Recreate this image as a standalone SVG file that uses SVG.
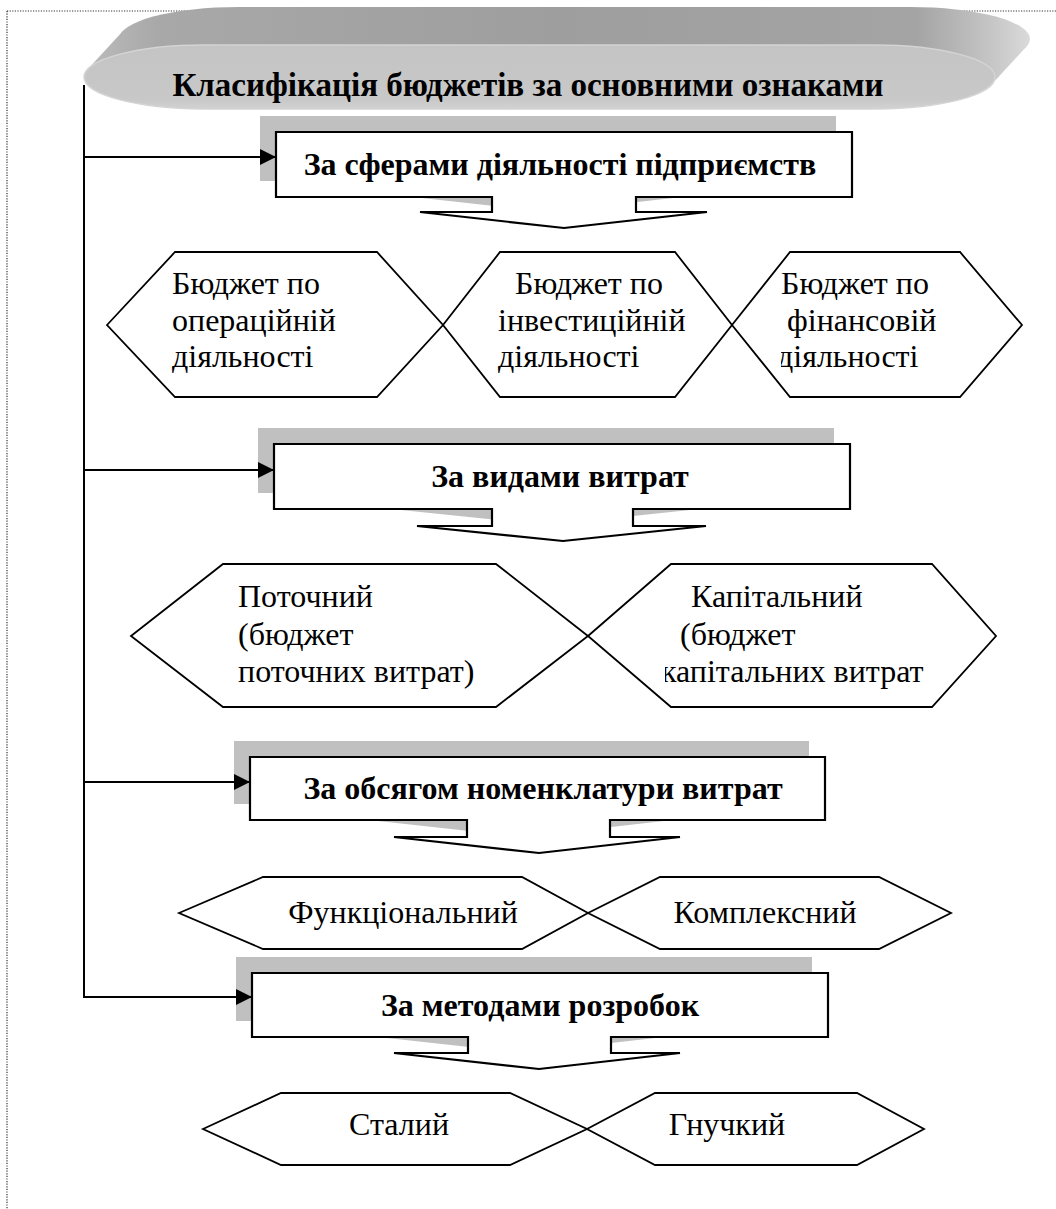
<svg xmlns="http://www.w3.org/2000/svg" width="1056" height="1209" viewBox="0 0 1056 1209">
<style>
.bt{font-family:"Liberation Serif","DejaVu Serif",serif;font-weight:bold;font-size:32px;fill:#000;text-anchor:middle}
.rt{font-family:"Liberation Serif","DejaVu Serif",serif;font-size:32px;fill:#000}
.mid{text-anchor:middle}
.hex{fill:#fff;stroke:#000;stroke-width:1.8;stroke-linejoin:miter}
.box{fill:#fff;stroke:#000;stroke-width:2.2;stroke-linejoin:miter}
.shd{fill:#c0c0c0}
.con{fill:none;stroke:#000;stroke-width:2}
.dot{fill:none;stroke:#333;stroke-width:1.2;stroke-dasharray:1.2 1.4}
</style>
<defs>
<marker id="ah" markerUnits="userSpaceOnUse" markerWidth="18" markerHeight="18" refX="16" refY="8" orient="auto">
<path d="M0,0 L16,8 L0,16 Z" fill="#000"/>
</marker>
<linearGradient id="gBack" x1="84" y1="0" x2="1030" y2="0" gradientUnits="userSpaceOnUse">
<stop offset="0" stop-color="#bcbcbc"/>
<stop offset="0.08" stop-color="#a8a8a8"/>
<stop offset="0.5" stop-color="#9e9e9e"/>
<stop offset="0.88" stop-color="#a4a4a4"/>
<stop offset="0.96" stop-color="#c6c6c6"/>
<stop offset="1" stop-color="#dadada"/>
</linearGradient>
<linearGradient id="gFront" x1="0" y1="45" x2="0" y2="109" gradientUnits="userSpaceOnUse">
<stop offset="0" stop-color="#c4c4c4"/>
<stop offset="0.85" stop-color="#c8c8c8"/>
<stop offset="1" stop-color="#d2d2d2"/>
</linearGradient>
<clipPath id="clipH3"><rect x="781" y="240" width="250" height="170"/></clipPath>
<clipPath id="clipB2"><rect x="665" y="560" width="330" height="150"/></clipPath>
</defs>

<g id="border">
<line class="dot" x1="7" y1="11" x2="1056" y2="11"/>
<line class="dot" x1="7" y1="11" x2="7" y2="1209"/>
</g>

<g id="title">
<rect x="119" y="7" width="911" height="64" rx="120" ry="32" fill="url(#gBack)"/>
<polygon points="87.5,69.4 122.5,31.4 1026.5,46.6 991.5,84.6" fill="url(#gBack)"/>
<rect x="84" y="45" width="911" height="64" rx="120" ry="32" fill="url(#gFront)" stroke="#d4d4d4" stroke-width="1.5"/>
<text class="bt" x="528" y="96" style="font-size:33px">Класифікація бюджетів за основними ознаками</text>
</g>

<g id="box1">
<path class="shd" transform="translate(-16,-16)" d="M276,132 H852 V197 H636 V212 H707 L564,228 L420,212 H492 V197 H276 Z"/>
<path class="box" d="M276,132 H852 V197 H636 V212 H707 L564,228 L420,212 H492 V197 H276 Z"/>
<text class="bt" x="560" y="175">За сферами діяльності підприємств</text>
</g>

<g id="hex-oper">
<polygon class="hex" points="107,325 175,252 377,252 443,325 377,397 175,397"/>
<text class="rt" x="172" y="294">Бюджет по</text>
<text class="rt" x="172" y="331">операційній</text>
<text class="rt" x="172" y="367">діяльності</text>
</g>
<g id="hex-invest">
<polygon class="hex" points="443,325 500,252 675,252 732,325 675,397 500,397"/>
<text class="rt" x="515" y="294">Бюджет по</text>
<text class="rt" x="498" y="331">інвестиційній</text>
<text class="rt" x="498" y="367">діяльності</text>
</g>
<g id="hex-fin">
<polygon class="hex" points="732,325 790,252 960,252 1022,325 960,397 790,397"/>
<g clip-path="url(#clipH3)">
<text class="rt" x="781" y="294">Бюджет по</text>
<text class="rt" x="787" y="331">фінансовій</text>
<text class="rt" x="777" y="367">діяльності</text>
</g>
</g>

<g id="box2">
<path class="shd" transform="translate(-16,-16)" d="M274,444 H850 V509 H633 V526 H706 L563,541 L417,526 H492 V509 H274 Z"/>
<path class="box" d="M274,444 H850 V509 H633 V526 H706 L563,541 L417,526 H492 V509 H274 Z"/>
<text class="bt" x="560" y="487">За видами витрат</text>
</g>

<g id="hex-current">
<polygon class="hex" points="131,636 223,564 496,564 588,636 496,707 223,707"/>
<text class="rt" x="238" y="607">Поточний</text>
<text class="rt" x="238" y="645">(бюджет</text>
<text class="rt" x="238" y="682">поточних витрат)</text>
</g>
<g id="hex-capital">
<polygon class="hex" points="588,636 671,564 932,564 996,636 932,707 671,707"/>
<g clip-path="url(#clipB2)">
<text class="rt" x="691" y="607">Капітальний</text>
<text class="rt" x="680" y="645">(бюджет</text>
<text class="rt" x="661" y="682">капітальних витрат</text>
</g>
</g>

<g id="box3">
<path class="shd" transform="translate(-16,-16)" d="M250,757 H825 V820 H610 V837 H680 L539,853 L394,837 H467 V820 H250 Z"/>
<path class="box" d="M250,757 H825 V820 H610 V837 H680 L539,853 L394,837 H467 V820 H250 Z"/>
<text class="bt" x="543" y="799">За обсягом номенклатури витрат</text>
</g>

<g id="hex-func">
<polygon class="hex" points="179,913 263,877 522,877 588,913 522,949 263,949"/>
<text class="rt mid" x="403" y="923">Функціональний</text>
</g>
<g id="hex-complex">
<polygon class="hex" points="588,913 660,877 879,877 951,913 879,949 660,949"/>
<text class="rt mid" x="765" y="923">Комплексний</text>
</g>

<g id="box4">
<path class="shd" transform="translate(-16,-16)" d="M252,973 H828 V1037 H611 V1053 H680 L539,1069 L394,1053 H468 V1037 H252 Z"/>
<path class="box" d="M252,973 H828 V1037 H611 V1053 H680 L539,1069 L394,1053 H468 V1037 H252 Z"/>
<text class="bt" x="540" y="1016">За методами розробок</text>
</g>

<g id="hex-fixed">
<polygon class="hex" points="203,1129 281,1093 510,1093 587,1129 510,1165 281,1165"/>
<text class="rt mid" x="399" y="1135">Сталий</text>
</g>
<g id="hex-flexible">
<polygon class="hex" points="587,1129 655,1093 857,1093 924,1129 857,1165 655,1165"/>
<text class="rt mid" x="727" y="1135">Гнучкий</text>
</g>

<g id="connectors">
<line class="con" x1="84" y1="85" x2="84" y2="998"/>
<line class="con" x1="83" y1="157" x2="276" y2="157" marker-end="url(#ah)"/>
<line class="con" x1="83" y1="470" x2="274" y2="470" marker-end="url(#ah)"/>
<line class="con" x1="83" y1="782" x2="250" y2="782" marker-end="url(#ah)"/>
<line class="con" x1="83" y1="997" x2="252" y2="997" marker-end="url(#ah)"/>
</g>
</svg>
